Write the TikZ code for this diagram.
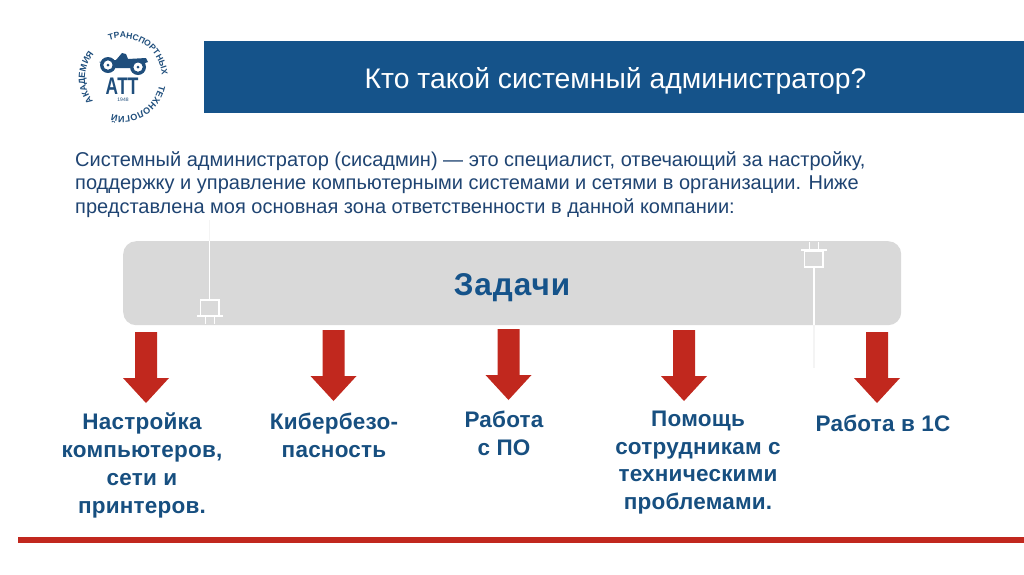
\documentclass[tikz,border=0pt]{standalone}
\usepackage{fontspec}
\setmainfont{Liberation Sans}
\usetikzlibrary{decorations.text}
\definecolor{bluebar}{HTML}{15538A}
\definecolor{bodyblue}{HTML}{1F4472}
\definecolor{labelblue}{HTML}{174F80}
\definecolor{redarrow}{HTML}{C1281E}
\definecolor{panel}{HTML}{D9D9D9}
\definecolor{logoblue}{HTML}{1F4E7C}
\definecolor{faint}{HTML}{F4F4F4}
\newfontfamily\spaced[LetterSpace=1]{Liberation Sans}
\newfontfamily\spacedb[LetterSpace=3]{Liberation Sans}
\tikzset{
  x=1pt,y=-1pt,
  downarrow/.style={fill=redarrow,draw=none},
  tasklabel/.style={font=\spaced\fontsize{22.5}{27.7}\selectfont\bfseries,text=labelblue,align=center,inner sep=0},
  plug/.style={draw=white,line width=1.8pt},
  faintline/.style={draw=faint,line width=1.5pt},
}
\newcommand{\downarr}[3]{% cx, top, tip
  \fill[downarrow] (#1-11,#2) -- (#1+11,#2) -- (#1+11,#3-25) -- (#1+23,#3-25) -- (#1,#3) -- (#1-23,#3-25) -- (#1-11,#3-25) -- cycle;}
\begin{document}
\begin{tikzpicture}
\useasboundingbox (0,0) rectangle (1024,574);
\fill[white] (0,0) rectangle (1024,574);
% banner
\node[fill=bluebar,minimum width=820pt,minimum height=72pt,inner sep=0,anchor=north west] (banner) at (204,41) {};
\node[font=\fontsize{28.3}{32}\selectfont,text=white,anchor=center,inner sep=0] (title) at (615.5,81) {Кто такой системный администратор?};
% logo
\fill[logoblue] (108,65) circle (8) (138,67) circle (8);
\fill[white] (108,65) circle (4.5) (138,67) circle (4.5);
\fill[logoblue] (99,62) -- (116,60) -- (122,53) -- (126,54) -- (128,59) -- (146,58) -- (148,62) -- (130,68) -- (116,68) -- cycle;
\fill[white] (108,65) circle (4.5) (138,67) circle (4.5);
\fill[logoblue] (108,65) circle (1.5) (138,67) circle (1.5);
\node[font=\fontsize{24}{24}\selectfont\bfseries,text=logoblue,inner sep=0,xscale=.72] (att) at (122,86) {АТТ};
\node[font=\fontsize{5}{5}\selectfont,text=logoblue,inner sep=0] (yr) at (123,100) {1948};
\begin{scope}[shift={(122,78)},x=1pt,y=1pt]
\path[decorate,decoration={text along path,text align=center,text={|\fontsize{9}{9}\selectfont\bfseries\color{logoblue}|АКАДЕМИЯ}}] (218:37) arc[start angle=218,end angle=140,radius=37];
\path[decorate,decoration={text along path,text align=center,text={|\fontsize{8.5}{8.5}\selectfont\bfseries\color{logoblue}|ТРАНСПОРТНЫХ}}] (118:40) arc[start angle=118,end angle=-5,radius=40];
\path[decorate,decoration={text along path,text align=center,text={|\fontsize{9}{9}\selectfont\bfseries\color{logoblue}|ТЕХНОЛОГИЙ}}] (-12:38) arc[start angle=-12,end angle=-105,radius=38];
\end{scope}
% body
\node[font=\fontsize{20}{23.5}\selectfont,text=bodyblue,align=left,anchor=north west,inner sep=0] (body) at (75,151) {Системный администратор (сисадмин) — это специалист, отвечающий за настройку,\\поддержку и управление компьютерными системами и сетями в организации. Ниже\\представлена моя основная зона ответственности в данной компании:};
% panel
\node[fill=panel,rounded corners=13pt,minimum width=778pt,minimum height=84pt,inner sep=0,anchor=north west] (panel) at (123,241) {};
\node[font=\spacedb\fontsize{31.5}{36}\selectfont\bfseries,text=bluebar,inner sep=0] (zad) at (512,288) {Задачи};
% plugs
\draw[faintline] (209.5,220) -- (209.5,241);
\draw[faintline] (814,325) -- (814,368);
\draw[plug] (209.5,241) -- (209.5,300);
\draw[plug] (200.5,300) rectangle (219,316);
\draw[plug] (197,316) -- (223,316);
\draw[plug] (205.5,316) -- (205.5,324) (214.5,316) -- (214.5,324);
\draw[plug] (814,267) -- (814,325);
\draw[plug] (804.5,251) rectangle (823,267);
\draw[plug] (801,250) -- (827,250);
\draw[plug] (809.5,242) -- (809.5,250) (818.5,242) -- (818.5,250);
% arrows
\downarr{146}{332}{403}
\downarr{333.5}{330}{401}
\downarr{508.5}{329}{400}
\downarr{684}{330}{401}
\downarr{877}{332}{403}
% labels
\node[tasklabel] (t1) at (142,465.5) {Настройка\\компьютеров,\\сети и\\принтеров.};
\node[tasklabel] (t2) at (334,435) {Кибербезо-\\пасность};
\node[tasklabel] (t3) at (504,433.5) {Работа\\с ПО};
\node[tasklabel] (t4) at (698,462.5) {Помощь\\сотрудникам с\\техническими\\проблемами.};
\node[tasklabel] (t5) at (883,423) {Работа в 1С};
% red rule
\fill[redarrow] (18,537) rectangle (1024,543);
\end{tikzpicture}
\end{document}
